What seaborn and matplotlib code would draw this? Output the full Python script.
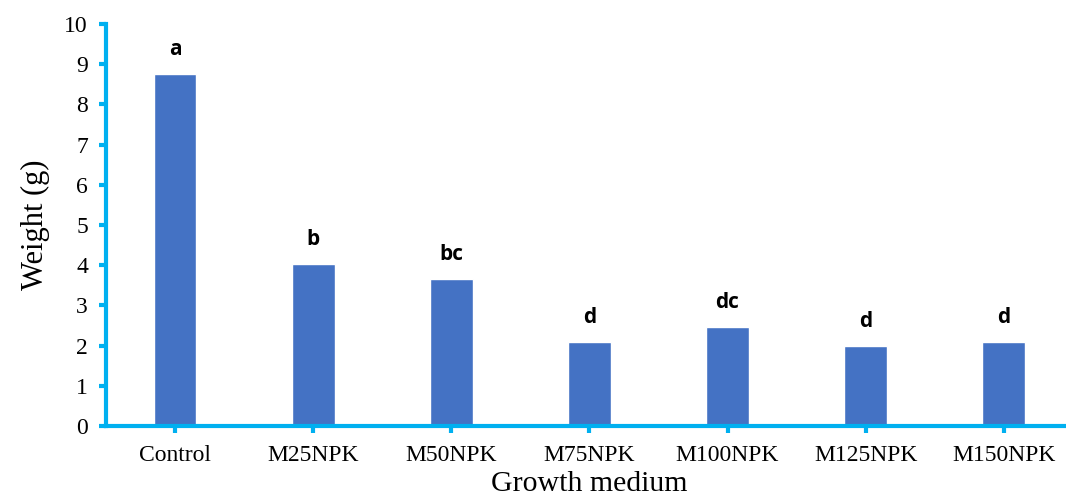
import matplotlib
matplotlib.use("Agg")
import matplotlib.pyplot as plt
import seaborn as sns
import pandas as pd

# Growth medium treatments and mean plant weight
media = ["Control", "M25NPK", "M50NPK", "M75NPK", "M100NPK", "M125NPK", "M150NPK"]
weights = [8.76, 4.03, 3.66, 2.09, 2.46, 1.99, 2.09]
groups = ["a", "b", "bc", "d", "dc", "d", "d"]

df = pd.DataFrame({"medium": media, "weight": weights})

sns.set_theme(style="white")
plt.rcParams["font.family"] = ["Liberation Serif", "DejaVu Serif"]
plt.rcParams["axes.labelcolor"] = "black"
plt.rcParams["text.color"] = "black"

axis_color = "#00B0F0"
bar_color = "#4472C4"

fig = plt.figure(figsize=(10.66, 4.97), dpi=100)
ax = fig.add_axes([0.0994, 0.1429, 0.9070, 0.8089])

sns.barplot(data=df, x="medium", y="weight", color=bar_color, width=0.31,
            saturation=1, ax=ax)

for i, (w, g) in enumerate(zip(weights, groups)):
    ax.annotate(g, (i, w), xytext=(0, 10), textcoords="offset points",
                ha="center", va="bottom", fontsize=15, fontweight="bold",
                family=["Open Sans", "DejaVu Sans"], color="black")

ax.set_ylim(0, 10)
ax.set_xlim(-0.5, 6.5)
ax.set_yticks(range(0, 11))
ax.set_xlabel("Growth medium", fontsize=21.5, labelpad=3, color="black")
ax.set_ylabel("Weight (g)", fontsize=22, labelpad=10, color="black")

for side in ["top", "right"]:
    ax.spines[side].set_visible(False)
for side in ["left", "bottom"]:
    ax.spines[side].set_color(axis_color)
    ax.spines[side].set_linewidth(3)

ax.tick_params(axis="both", colors=axis_color, length=5, width=3,
               direction="out", labelsize=17, labelcolor="black")
ax.tick_params(axis="x", bottom=True, pad=9)
ax.tick_params(axis="y", left=True, pad=8)

fig.savefig("out.png", dpi=100)
